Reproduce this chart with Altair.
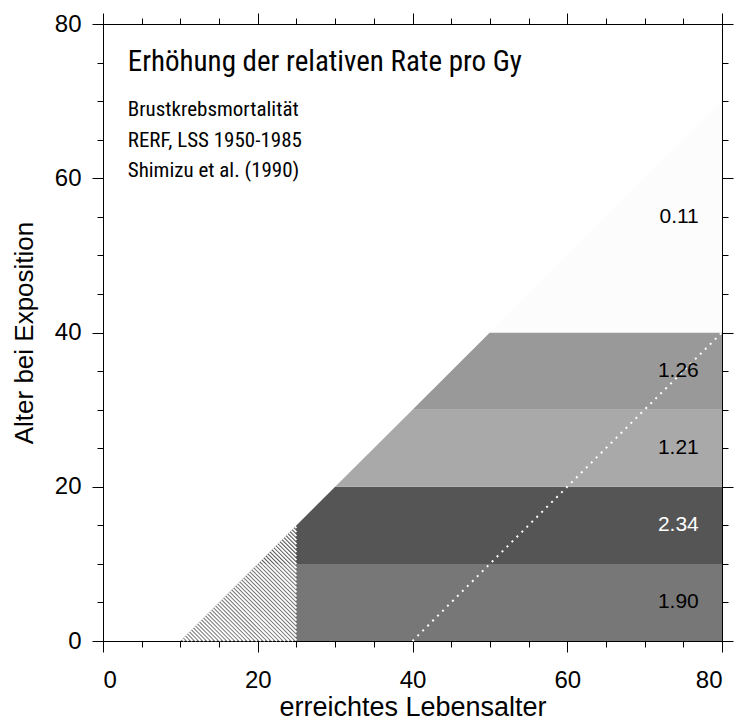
import altair as alt
import numpy as np
import pandas as pd

# ---------------- data ----------------
band_names = ["0-9", "10-19", "20-29", "30-39", "40+"]
band_edges_y = [0, 10, 20, 30, 40, 70]      # Alter bei Exposition (band limits)
band_edges_x = [10, 20, 30, 40, 50, 80]     # attained age at the left (diagonal) edge
band_values = ["1.90", "2.34", "1.21", "1.26", "0.11"]
band_label_y = [5, 15, 25, 35, 55]
band_colors = ["#777777", "#555555", "#a9a9a9", "#999999", "#fcfcfc"]
label_colors = ["#000000", "#ffffff", "#000000", "#000000", "#000000"]
x_max = 80

hatch_corner = [(10, 0), (25, 15), (25, 0)]  # hatched triangle (excluded ages)
dotted_x = [40, 80]
dotted_y = [0, 40]

title_text = "Erhöhung der relativen Rate pro Gy"
sub_lines = ["Brustkrebsmortalität", "RERF, LSS 1950-1985", "Shimizu et al. (1990)"]

major_ticks = [0, 20, 40, 60, 80]
minor_ticks = list(range(0, 81, 5))

# ---------------- tables ----------------
rows = []
for i, b in enumerate(band_names):
    rows.append(dict(band=b, y=band_edges_y[i], x=band_edges_x[i], x2=x_max))
    rows.append(dict(band=b, y=band_edges_y[i + 1], x=band_edges_x[i + 1], x2=x_max))
area_df = pd.DataFrame(rows)

# hatch lines x + y = c inside the triangle
(ax0, ay0), (ax1, ay1), (ax2, ay2) = hatch_corner
h = []
for c in np.arange(ax0 + 0.52, ax1 + ay1, 0.52):
    ux = (c + ax0) / 2.0
    uy = (c - ax0) / 2.0
    if c <= ax2:
        lx, ly = c, 0.0
    else:
        lx, ly = ax2, c - ax2
    h.append(dict(x=ux, y=uy, x2=lx, y2=ly))
hatch_df = pd.DataFrame(h)

dot_df = pd.DataFrame({"x": [dotted_x[0]], "y": [dotted_y[0]], "x2": [dotted_x[1]], "y2": [dotted_y[1]]})

lab_df = pd.DataFrame({"y": band_label_y, "t": band_values, "c": label_colors, "x": [77] * 5})

text_df = pd.DataFrame({"t": sub_lines, "y": [68.8, 64.85, 60.9], "x": [3.2] * 3})
title_df = pd.DataFrame({"t": [title_text], "y": [75.1], "x": [3.2]})

xs = alt.Scale(domain=[0, 80], nice=False, zero=False)
ys = alt.Scale(domain=[0, 80], nice=False, zero=False)

areas = alt.Chart(area_df).mark_area(orient="horizontal", opacity=1).encode(
    y=alt.Y("y:Q", scale=ys, axis=None),
    x=alt.X("x:Q", scale=xs, axis=None),
    x2="x2:Q",
    color=alt.Color("band:N", scale=alt.Scale(domain=band_names, range=band_colors), legend=None),
)

hatch = alt.Chart(hatch_df).mark_rule(color="white", strokeWidth=1.8).encode(
    x=alt.X("x:Q", scale=xs, axis=None), y=alt.Y("y:Q", scale=ys, axis=None), x2="x2:Q", y2="y2:Q"
)

dotted = alt.Chart(dot_df).mark_rule(color="white", strokeWidth=2, strokeDash=[2, 5]).encode(
    x=alt.X("x:Q", scale=xs, axis=None), y=alt.Y("y:Q", scale=ys, axis=None), x2="x2:Q", y2="y2:Q"
)

labels = alt.Chart(lab_df).mark_text(align="right", baseline="middle", fontSize=21, font="Liberation Sans").encode(
    x=alt.X("x:Q", scale=xs, axis=None), y=alt.Y("y:Q", scale=ys, axis=None), text="t:N",
    color=alt.Color("c:N", scale=None),
)

narrow = "Roboto Condensed, Liberation Sans"
subs = alt.Chart(text_df).mark_text(align="left", baseline="middle", fontSize=21, font=narrow, color="black").encode(
    x=alt.X("x:Q", scale=xs, axis=None), y=alt.Y("y:Q", scale=ys, axis=None), text="t:N"
)
title = alt.Chart(title_df).mark_text(align="left", baseline="middle", fontSize=29, font=narrow, color="black").encode(
    x=alt.X("x:Q", scale=xs, axis=None), y=alt.Y("y:Q", scale=ys, axis=None), text="t:N"
)

axis_df = pd.DataFrame({"x": [0, 80], "y": [0, 80]})
common = dict(tickColor="black", domainColor="black", tickWidth=1, domainWidth=1, grid=False)


def axis_layer(xa, ya, xt=None, yt=None):
    return alt.Chart(axis_df).mark_point(opacity=0).encode(
        x=alt.X("x:Q", scale=xs, axis=xa, title=xt),
        y=alt.Y("y:Q", scale=ys, axis=ya, title=yt),
    )


ax_major = axis_layer(
    alt.Axis(orient="bottom", values=major_ticks, tickSize=11, labelFontSize=24, labelPadding=16,
             titleFontSize=27, titleFontWeight="normal", titleBaseline="middle", titleY=66,
             labelFont="Liberation Sans", titleFont="Liberation Sans", titleColor="black",
             labelColor="black", **common),
    alt.Axis(orient="left", values=major_ticks, tickSize=11, labelFontSize=24, labelPadding=11,
             titleFontSize=26, titleFontWeight="normal", titleBaseline="middle", titleAngle=270,
             titleX=-79, titleY=308.5, titleAlign="center",
             labelFont="Liberation Sans", titleFont="Liberation Sans", titleColor="black",
             labelColor="black", **common),
    "erreichtes Lebensalter", "Alter bei Exposition",
)
ax_minor = axis_layer(
    alt.Axis(orient="bottom", values=minor_ticks, tickSize=6, labels=False, domain=False, **common),
    alt.Axis(orient="left", values=minor_ticks, tickSize=6, labels=False, domain=False, **common),
)
ax_major2 = axis_layer(
    alt.Axis(orient="top", values=major_ticks, tickSize=11, labels=False, **common),
    alt.Axis(orient="right", values=major_ticks, tickSize=11, labels=False, **common),
)
ax_minor2 = axis_layer(
    alt.Axis(orient="top", values=minor_ticks, tickSize=6, labels=False, domain=False, **common),
    alt.Axis(orient="right", values=minor_ticks, tickSize=6, labels=False, domain=False, **common),
)

chart = alt.layer(
    areas, hatch, dotted, labels, subs, title, ax_minor, ax_minor2, ax_major, ax_major2
).resolve_axis(x="independent", y="independent").properties(
    width=619, height=617,
    autosize=alt.AutoSizeParams(type="none"),
    padding={"left": 103, "top": 24, "right": 14, "bottom": 79},
    background="white",
).configure_view(strokeWidth=0)

chart.save("out.html", embed_options={"renderer": "svg", "actions": False})
